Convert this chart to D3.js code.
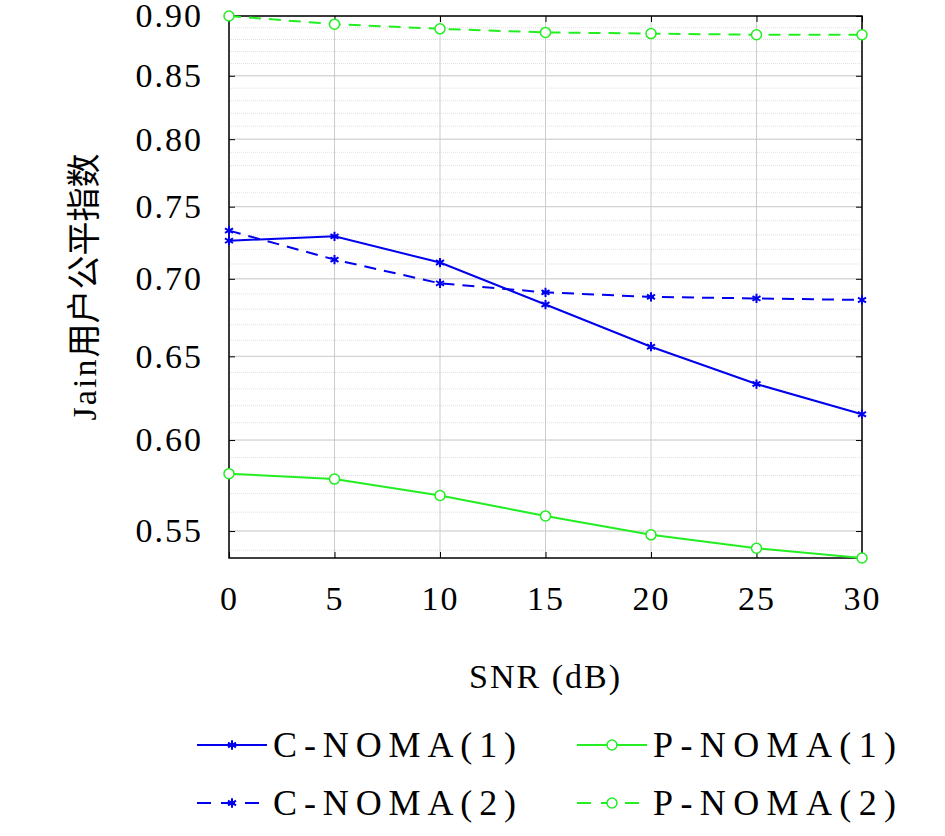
<!DOCTYPE html>
<html><head><meta charset="utf-8">
<script src="https://cdn.jsdelivr.net/npm/d3@7"></script>
<style>body{margin:0;background:#fff}text{font-family:"Liberation Serif","DejaVu Serif",serif;letter-spacing:2px}</style>
</head><body><svg id="c" width="945" height="836"></svg>
<script>
const snr=[0,5,10,15,20,25,30];
const cNoma1=[0.726,0.729,0.711,0.683,0.656,0.633,0.615];
const cNoma2=[0.733,0.713,0.697,0.691,0.688,0.687,0.686];
const pNoma1=[0.581,0.578,0.569,0.558,0.548,0.541,0.536];
const pNoma2=[0.900,0.893,0.889,0.886,0.885,0.884,0.884];
const yTicks=[0.55,0.60,0.65,0.70,0.75,0.80,0.85,0.90];
const xTicks=[0,5,10,15,20,25,30];
const series=[
 {name:"C-NOMA(1)",v:cNoma1,color:"#0000ee",dash:null,mk:"star"},
 {name:"P-NOMA(1)",v:pNoma1,color:"#22ee22",dash:null,mk:"circle"},
 {name:"C-NOMA(2)",v:cNoma2,color:"#0000ee",dash:"12,8",mk:"star"},
 {name:"P-NOMA(2)",v:pNoma2,color:"#22ee22",dash:"12,8",mk:"circle"}];
const svg=d3.select("#c");
const L=229,R=862,T=16,B=558;
const x=d3.scaleLinear().domain([0,30]).range([L,R]);
const y=d3.scaleLog().domain([0.536,0.9]).range([B,T]);
const minor=d3.range(54,91).map(d=>d/100);
svg.append("g").selectAll("line").data(minor).join("line")
 .attr("x1",L).attr("x2",R).attr("y1",d=>y(d)).attr("y2",d=>y(d))
 .attr("stroke","#d8d8d8").attr("stroke-width",0.8).attr("stroke-dasharray","1,1");
svg.append("g").selectAll("line").data(yTicks).join("line")
 .attr("x1",L).attr("x2",R).attr("y1",d=>y(d)).attr("y2",d=>y(d)).attr("stroke","#ccc");
svg.append("g").selectAll("line").data(xTicks).join("line")
 .attr("x1",d=>x(d)).attr("x2",d=>x(d)).attr("y1",T).attr("y2",B).attr("stroke","#ccc");
const xa=svg.append("g").attr("transform",`translate(0,${B})`).call(d3.axisBottom(x).tickValues(xTicks).tickSize(-6).tickPadding(28));
const ya=svg.append("g").attr("transform",`translate(${L},0)`).call(d3.axisLeft(y).tickValues(yTicks).tickFormat(d3.format(".2f")).tickSize(-6).tickPadding(26));
[xa,ya].forEach(a=>{a.selectAll("text").attr("font-size",34).attr("fill","#000").style("font-family","Liberation Serif");a.select(".domain").remove();a.selectAll("line").attr("stroke","#000");});
svg.append("g").attr("transform",`translate(0,${T})`).call(d3.axisTop(x).tickValues(xTicks).tickSize(-6).tickFormat("")).select(".domain").remove();
svg.append("g").attr("transform",`translate(${R},0)`).call(d3.axisRight(y).tickValues(yTicks).tickSize(-6).tickFormat("")).select(".domain").remove();
svg.append("rect").attr("x",L).attr("y",T).attr("width",R-L).attr("height",B-T).attr("fill","none").attr("stroke","#000").attr("stroke-width",1.5);
function marker(g,mk,cx,cy,color){
 if(mk==="circle") g.append("circle").attr("cx",cx).attr("cy",cy).attr("r",5).attr("fill","#fff").attr("stroke",color).attr("stroke-width",1.5);
 else g.append("path").attr("d",d3.symbol(d3.symbolAsterisk,60)()).attr("transform",`translate(${cx},${cy})`).attr("stroke",color).attr("stroke-width",2).attr("fill","none");
}
const line=d3.line().x((d,i)=>x(snr[i])).y(d=>y(d));
series.forEach(s=>{
 const g=svg.append("g");
 g.append("path").attr("d",line(s.v)).attr("fill","none").attr("stroke",s.color).attr("stroke-width",2).attr("stroke-dasharray",s.dash);
 s.v.forEach((v,i)=>marker(g,s.mk,x(snr[i]),y(v),s.color));
});
svg.append("text").attr("x",(L+R)/2).attr("y",688).attr("text-anchor","middle").attr("font-size",34).text("SNR (dB)");
svg.append("text").attr("transform","translate(96,287) rotate(-90)").attr("text-anchor","middle").attr("font-size",34)
 .html('Jain<tspan style="font-family:\'Noto Sans CJK SC\';letter-spacing:0">用户公平指数</tspan>');
series.forEach((s,i)=>{
 const lx=[197,577][i%2], ly=[745,803][Math.floor(i/2)];
 const g=svg.append("g");
 g.append("line").attr("x1",lx).attr("x2",lx+70).attr("y1",ly).attr("y2",ly).attr("stroke",s.color).attr("stroke-width",2).attr("stroke-dasharray",s.dash?"14,10":null);
 marker(g,s.mk,lx+35,ly,s.color);
 g.append("text").attr("x",lx+76).attr("y",ly+12).attr("font-size",36).attr("textLength",245).text(s.name);
});
</script></body></html>
